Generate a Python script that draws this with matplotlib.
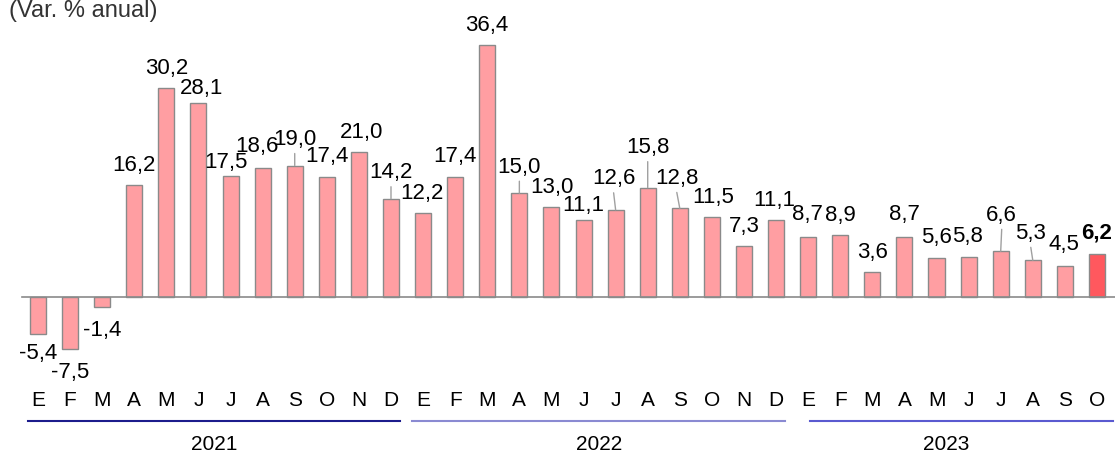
import matplotlib
matplotlib.use("Agg")
import matplotlib.pyplot as plt

plt.rcParams["font.family"] = ["Liberation Sans", "DejaVu Sans"]

# data
months = ["E", "F", "M", "A", "M", "J", "J", "A", "S", "O", "N", "D"] * 2 + \
         ["E", "F", "M", "A", "M", "J", "J", "A", "S", "O"]
values = [-5.4, -7.5, -1.4, 16.2, 30.2, 28.1, 17.5, 18.6, 19.0, 17.4, 21.0, 14.2,
          12.2, 17.4, 36.4, 15.0, 13.0, 11.1, 12.6, 15.8, 12.8, 11.5, 7.3, 11.1,
          8.7, 8.9, 3.6, 8.7, 5.6, 5.8, 6.6, 5.3, 4.5, 6.2]
years = ["2021", "2022", "2023"]

# label offsets in pixels (dx, dy from bar end) and which get a leader line
label_off = [(0, -19), (0, -24), (0, -24), (0, 19), (0, 20), (3, 14), (-5, 13), (-6, 22),
             (0, 26), (0, 20), (3, 19), (0, 26),
             (-1, 19), (0, 20), (-1, 20), (0, 26), (0, 20), (0, 15), (-2, 31), (0, 40),
             (-3, 30), (1, 20), (0, 20), (-2, 20),
             (-1, 22), (0, 20), (0, 20), (0, 22), (0, 21), (-1, 20), (1, 36), (-2, 27),
             (-1, 21), (0, 21)]
leaders = {8, 11, 15, 18, 19, 20, 30, 31}

W, H = 1115, 454
fig = plt.figure(figsize=(W / 100, H / 100), dpi=100)
ax = fig.add_axes([0, 0, 1, 1])
ax.set_axis_off()

# 32.09 px per bar, first bar at px 38; baseline at px 297, 6.92 px per unit
step, ppu = 32.09, 6.92
ax.set_xlim(-38 / step, (W - 38) / step)
ax.set_ylim(-(H - 297) / ppu, 297 / ppu)

x = list(range(len(values)))
colors = ["#ff9ea2"] * (len(values) - 1) + ["#ff585e"]
ax.bar(x, values, width=0.5, color=colors, edgecolor="#8a8a8a", linewidth=1, zorder=2)

ax.plot([-16 / step, (W - 38) / step], [0, 0], color="#8a8a8a", lw=1.2, zorder=3)

for i, v in enumerate(values):
    dx, dy = label_off[i]
    txt = f"{v:.1f}".replace(".", ",")
    bold = i == len(values) - 1
    ax.annotate(txt, (i, v), xytext=(dx, dy), textcoords="offset pixels",
                ha="center", va="center", fontsize=16,
                fontweight="bold" if bold else "normal", color="black")
    if i in leaders:
        ax.annotate("", (i, v), xytext=(dx, dy - 14), textcoords="offset pixels",
                    arrowprops=dict(arrowstyle="-", color="#a0a0a0", lw=1,
                                    shrinkA=0, shrinkB=0))

tr = ax.get_xaxis_transform()
for i, m in enumerate(months):
    ax.text(i, 1 - 400 / H, m, transform=tr, ha="center", va="center", fontsize=15)

# year group lines and labels
spans = [(-0.31, 11.28), (11.65, 23.28), (24.06, 33.5)]
line_cols = ["#1c1c8c", "#8a8ad2", "#5a5ad0"]
year_x = [5.5, 17.5, 28.3]
for (a, b), c, yx, yr in zip(spans, line_cols, year_x, years):
    ax.plot([a, b], [1 - 421 / H] * 2, color=c, lw=1.5, transform=tr, clip_on=False)
    ax.text(yx, 1 - 445 / H, yr, transform=tr, ha="center", va="center", fontsize=15)

fig.text(9 / W, 1 - 17 / H, "(Var. % anual)", ha="left", va="baseline",
         fontsize=17, color="#333333")

fig.savefig("out.png", dpi=100)
